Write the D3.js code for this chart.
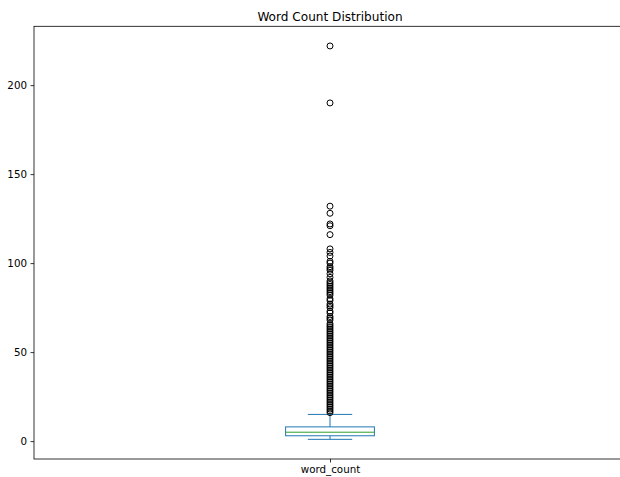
<!DOCTYPE html>
<html>
<head>
<meta charset="utf-8">
<script src="https://cdn.jsdelivr.net/npm/d3@7"></script>
<style>
  html, body { margin: 0; padding: 0; background: #fff; }
  svg { display: block; font-family: "DejaVu Sans", sans-serif; }
</style>
</head>
<body>
<svg id="chart" width="620" height="477"></svg>
<script>
// Box summary for the word_count column
const category = ["word_count"];
const boxStats = { whiskerLow: 1, q1: 3, median: 5, q3: 8, whiskerHigh: 15 };

// Values beyond the upper whisker (drawn as fliers)
const fliers = [
  16, 17, 18, 19, 20, 21, 22, 23, 24, 25, 26, 27, 28, 29, 30, 31, 32, 33, 34, 35,
  36, 37, 38, 39, 40, 41, 42, 43, 44, 45, 46, 47, 48, 49, 50, 51, 52, 53, 54, 55,
  56, 57, 58, 59, 60, 61, 62, 63, 64, 65, 66, 68, 69, 70, 72, 73, 75, 76, 77, 79,
  80, 82, 83, 84, 85, 86, 87, 88, 89, 90, 92, 94, 96, 97, 98, 100, 101, 104, 106,
  108, 116, 121, 122, 128, 132, 190, 222
];

const yTicks = [0, 50, 100, 150, 200];
const yDomain = [-10.05, 233.05];
const title = "Word Count Distribution";

const svg = d3.select("#chart");
const plot = { left: 34, right: 626, top: 26.3, bottom: 459 };

const x = d3.scaleLinear().domain([0.5, 1.5]).range([plot.left, plot.right]);
const y = d3.scaleLinear().domain(yDomain).range([plot.bottom, plot.top]);

const blue = "#1f77b4", green = "#2ca02c";
const cx = x(1);
const boxHalf = (x(1 + 0.075) - x(1));
const capHalf = boxHalf / 2;

const g = svg.append("g");

// whiskers
g.append("line").attr("x1", cx).attr("x2", cx)
  .attr("y1", y(boxStats.q1)).attr("y2", y(boxStats.whiskerLow))
  .attr("stroke", blue).attr("stroke-width", 1);
g.append("line").attr("x1", cx).attr("x2", cx)
  .attr("y1", y(boxStats.q3)).attr("y2", y(boxStats.whiskerHigh))
  .attr("stroke", blue).attr("stroke-width", 1);
// caps
[boxStats.whiskerLow, boxStats.whiskerHigh].forEach(v => {
  g.append("line").attr("x1", cx - capHalf).attr("x2", cx + capHalf)
    .attr("y1", y(v)).attr("y2", y(v))
    .attr("stroke", blue).attr("stroke-width", 1);
});
// box
g.append("rect")
  .attr("x", cx - boxHalf).attr("width", boxHalf * 2)
  .attr("y", y(boxStats.q3)).attr("height", y(boxStats.q1) - y(boxStats.q3))
  .attr("fill", "none").attr("stroke", blue).attr("stroke-width", 1);
// median
g.append("line").attr("x1", cx - boxHalf).attr("x2", cx + boxHalf)
  .attr("y1", y(boxStats.median)).attr("y2", y(boxStats.median))
  .attr("stroke", green).attr("stroke-width", 1);

// fliers
g.selectAll("circle.flier").data(fliers).join("circle")
  .attr("class", "flier")
  .attr("cx", cx).attr("cy", d => y(d)).attr("r", 3)
  .attr("fill", "none").attr("stroke", "#000").attr("stroke-width", 1);

// axes
const yAxis = d3.axisLeft(y).tickValues(yTicks).tickSize(3.5).tickPadding(3.5);
const ya = svg.append("g").attr("transform", `translate(${plot.left},0)`).call(yAxis);
ya.select(".domain").remove();
ya.selectAll("text").attr("font-size", "10.3px").attr("fill", "#000")
  .attr("font-family", "DejaVu Sans, sans-serif");
ya.selectAll("line").attr("stroke", "#000").attr("stroke-width", 0.8);

const xAxis = d3.axisBottom(x).tickValues([1]).tickFormat((d, i) => category[i])
  .tickSize(3.5).tickPadding(3.5);
const xa = svg.append("g").attr("transform", `translate(0,${plot.bottom})`).call(xAxis);
xa.select(".domain").remove();
xa.selectAll("text").attr("font-size", "10.3px").attr("fill", "#000")
  .attr("font-family", "DejaVu Sans, sans-serif");
xa.selectAll("line").attr("stroke", "#000").attr("stroke-width", 0.8);

// spines
svg.append("rect")
  .attr("x", plot.left).attr("y", plot.top)
  .attr("width", plot.right - plot.left).attr("height", plot.bottom - plot.top)
  .attr("fill", "none").attr("stroke", "#000").attr("stroke-width", 0.8);

// title
svg.append("text")
  .attr("x", (plot.left + plot.right) / 2).attr("y", 21)
  .attr("text-anchor", "middle")
  .attr("font-size", "12.1px").attr("fill", "#000")
  .text(title);
</script>
</body>
</html>
